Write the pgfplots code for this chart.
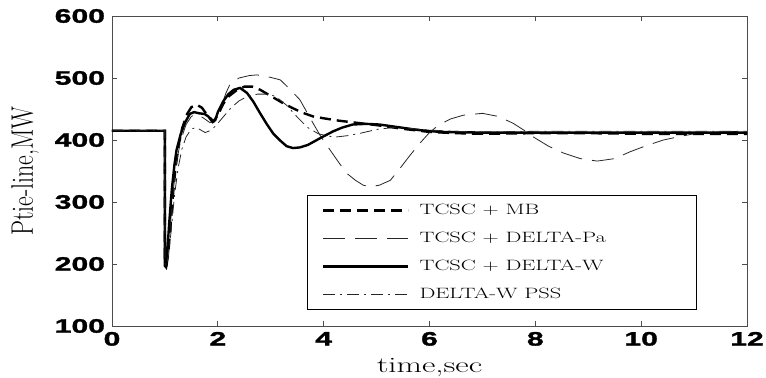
\documentclass[border=0pt]{standalone}
\usepackage{fontspec}
\usepackage{graphicx}
\usepackage{pgfplots}
\pgfplotsset{compat=1.18}

% wide bold sans for the tick numbers
\newfontfamily\tickfont[FakeStretch=1.55,FakeBold=1.6]{Liberation Sans}
% legend entries: wide serif text in a fixed-width cell
\newcommand{\leg}[1]{\makebox[262bp][l]{\fontsize{15}{17}\selectfont\scalebox{1.5}[1]{#1}}}

% responses of the tie-line power
\pgfplotstableread{
t P
0 415
0.999 415
1.0 200
1.03 198
1.06 215
1.10 255
1.15 310
1.20 355
1.26 392
1.33 420
1.42 442
1.50 453
1.60 457
1.70 452
1.80 440
1.92 430
2.00 440
2.10 458
2.20 470
2.35 480
2.50 486
2.65 486
2.80 481
3.00 471
3.20 461
3.40 452
3.60 444
3.80 438
4.00 435
4.30 431
4.60 428
5.00 424
5.50 418
6.00 413
6.50 411
7.00 410
8.00 411
9.00 411
10.0 410
11.0 410
12.0 410
}\mbdata

\pgfplotstableread{
t P
0 415
0.999 415
1.0 200
1.03 198
1.06 220
1.10 260
1.16 320
1.22 365
1.30 400
1.40 425
1.50 438
1.60 442
1.72 436
1.85 428
1.95 432
2.05 450
2.15 475
2.23 490
2.40 500
2.60 504
2.74 505
2.95 502
3.18 497
3.35 483
3.55 465
3.80 427
3.95 405
4.12 384
4.30 362
4.44 346
4.60 335
4.75 327
4.88 325
5.05 327
5.26 335
5.44 354
5.62 374
5.82 395
6.00 412
6.17 424
6.40 434
6.64 440
7.00 443
7.30 438
7.58 427
7.80 415
7.96 405
8.25 390
8.53 379
8.85 370
9.17 366
9.50 370
9.79 381
10.1 391
10.42 400
10.75 406
11.06 411
11.5 413
12.0 414
}\padata

\pgfplotstableread{
t P
0 415
0.999 415
1.0 197
1.02 195
1.05 225
1.08 265
1.13 320
1.18 360
1.22 384
1.30 410
1.38 428
1.47 442
1.55 445
1.65 443
1.75 442
1.82 438
1.90 429
1.95 432
2.00 445
2.10 462
2.20 474
2.30 481
2.42 484
2.55 476
2.67 462
2.80 443
2.93 425
3.05 410
3.18 399
3.30 390
3.42 387
3.55 388
3.70 392
3.85 399
4.00 406
4.18 414
4.35 420
4.55 425
4.80 426
5.05 425
5.30 422
5.55 419
5.80 416
6.20 413
7.0 412
8.0 412
9.0 412
10.0 412
11.0 412
12.0 412
}\wdata

\pgfplotstableread{
t P
0 415
0.999 415
1.0 200
1.03 198
1.07 215
1.12 255
1.18 310
1.25 355
1.32 385
1.40 405
1.50 418
1.60 420
1.68 416
1.76 412
1.85 415
1.95 422
2.10 437
2.25 452
2.40 463
2.55 470
2.75 474
2.95 474
3.10 470
3.30 456
3.50 437
3.70 420
3.90 410
4.10 406
4.25 405
4.45 407
4.70 411
5.00 417
5.30 420
5.60 419
6.00 416
6.50 414
7.0 413
8.0 414
9.0 414
10.0 414
11.0 414
12.0 414
}\pssdata

\begin{document}
\begin{tikzpicture}
\begin{axis}[
  at={(0,0)}, anchor=south west,
  width=635bp, height=310bp, scale only axis,
  xmin=0, xmax=12, ymin=100, ymax=600,
  xtick={0,2,...,12}, ytick={100,200,...,600},
  tick align=inside, major tick length=5bp,
  axis line style={black!70, line width=0.8pt},
  every tick/.style={black!70, line width=0.8pt},
  /pgf/number format/assume math mode=true,
  tick label style={font=\tickfont\bfseries\fontsize{19.5}{20}\selectfont},
  yticklabel style={xshift=-3.5bp},
  xticklabel style={yshift=-2.5bp},
  xlabel={\scalebox{1.5}[1]{\fontsize{22}{22}\selectfont time,sec}},
  ylabel={\scalebox{1}[1.3]{\fontsize{24}{24}\selectfont Ptie-line,MW}},
  xlabel style={at={(axis description cs:0.5,0)}, anchor=base, yshift=-46bp},
  ylabel style={at={(axis description cs:0,0.5)}, anchor=center, yshift=87bp},
  legend cell align=left,
  legend image code/.code={\draw[#1] (0bp,0bp) -- (85bp,0bp);},
  legend style={at={(rel axis cs:0.921,0.052)}, anchor=south east,
    draw=black, line width=0.6bp, fill=white,
    inner xsep=15bp, inner ysep=8bp, row sep=14bp, column sep=10bp,
    nodes={inner sep=0bp, text height=11bp, text depth=3bp}},
]
\addplot[black, line width=2.4bp, dash pattern=on 11bp off 6bp] table[x=t,y=P] {\mbdata};
\addlegendentry{\leg{TCSC + MB}}
\addplot[black!85, line width=0.8bp, dash pattern=on 22bp off 10bp] table[x=t,y=P] {\padata};
\addlegendentry{\leg{TCSC + DELTA-Pa}}
\addplot[black, line width=2.4bp] table[x=t,y=P] {\wdata};
\addlegendentry{\leg{TCSC + DELTA-W}}
\addplot[black!85, line width=0.8bp, dash pattern=on 12bp off 5bp on 2bp off 5bp] table[x=t,y=P] {\pssdata};
\addlegendentry{\leg{DELTA-W PSS}}
\end{axis}
\pgfresetboundingbox
\path (-112bp,-52bp) rectangle (654bp,326bp);
\end{tikzpicture}
\end{document}
